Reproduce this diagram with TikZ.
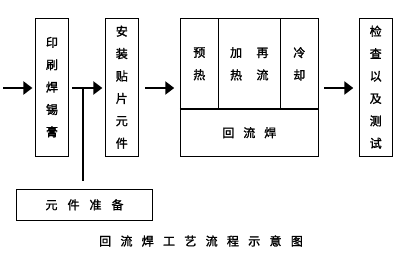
\documentclass[tikz,border=0pt]{standalone}
\usepackage{fontspec}
\newfontfamily\cjk[FakeBold=1.6]{Noto Sans CJK SC}
\usetikzlibrary{arrows.meta}
\begin{document}
\begin{tikzpicture}[x=1pt,y=-1pt,
  every node/.style={font=\cjk\fontsize{12}{22.4}\selectfont},
  box/.style={draw,line width=0.9pt,rectangle,inner sep=0pt,align=center},
  flow/.style={line width=2.6pt,-{Triangle[length=9pt,width=13pt]}},
  link/.style={line width=2pt}]
\useasboundingbox (0,0) rectangle (401,262);
% main boxes
\node[box,minimum width=33.3pt,minimum height=137.7pt] (print) at (52,87.2) {印\\刷\\焊\\锡\\膏};
\node[box,minimum width=33pt,minimum height=137.7pt] (mount) at (121.8,87.2) {安\\装\\贴\\片\\元\\件};
\node[box,minimum width=32.7pt,minimum height=137.7pt] (test) at (375.7,87.2) {检\\查\\以\\及\\测\\试};
% reflow block
\node[box,minimum width=38pt,minimum height=91pt] (pre) at (199.3,63.8) {预\\热};
\node[box,minimum width=62pt,minimum height=91pt] (heat) at (249.3,63.8) {加\hspace{14.3pt}再\\热\hspace{14.3pt}流};
\node[box,minimum width=38pt,minimum height=91pt] (cool) at (299.3,63.8) {冷\\却};
\node[box,minimum width=138pt,minimum height=46.7pt] (reflow) at (249.3,132.7) {回\hspace{9pt}流\hspace{9pt}焊};
\draw[line width=2pt] (reflow.north west) -- (reflow.north east);
% component preparation
\node[box,minimum width=136.4pt,minimum height=31.7pt] (comp) at (84.5,204.8) {元\hspace{10pt}件\hspace{10pt}准\hspace{10pt}备};
% caption
\node (cap) at (201,241) {回\hspace{9.3pt}流\hspace{9.3pt}焊\hspace{9.3pt}工\hspace{9.3pt}艺\hspace{9.3pt}流\hspace{9.3pt}程\hspace{9.3pt}示\hspace{9.3pt}意\hspace{9.3pt}图};
% arrows
\coordinate (start) at (3,88);
\coordinate (junc) at (82.7,88);
\draw[flow] (start) -- ([xshift=-2.5pt]print.west |- start);
\draw[flow] ([xshift=3.3pt]print.east |- start) -- ([xshift=-2.5pt]mount.west |- start);
\draw[link] (junc) -- ([yshift=8pt]comp.north -| junc);
\draw[flow] ([xshift=6.7pt]mount.east |- start) -- ([xshift=-5.6pt]pre.west |- start);
\draw[flow] ([xshift=5.7pt]cool.east |- start) -- ([xshift=-5.6pt]test.west |- start);
\end{tikzpicture}
\end{document}
